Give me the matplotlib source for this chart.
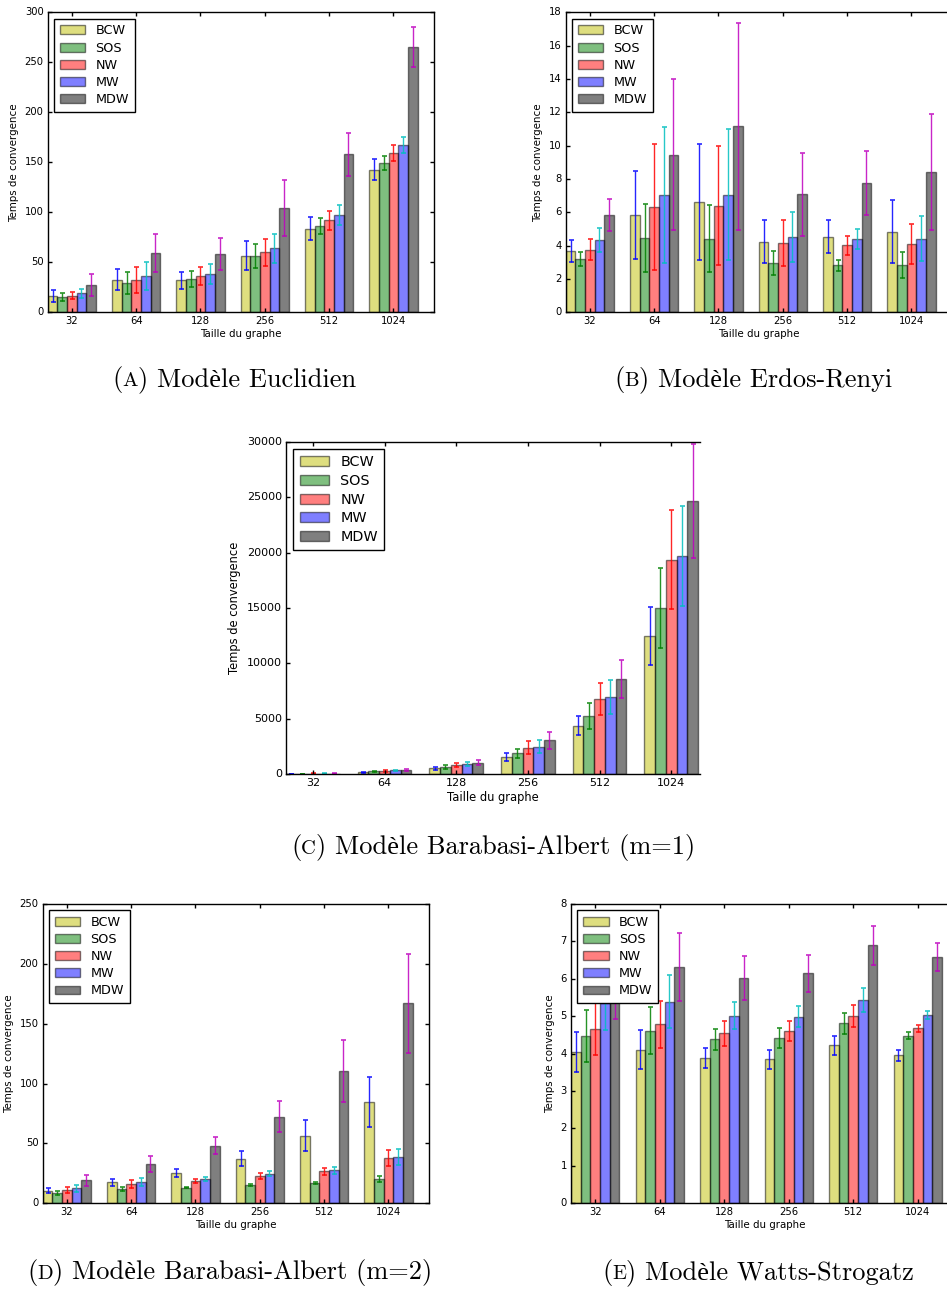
import numpy as np
import matplotlib
matplotlib.use('Agg')
import matplotlib.pyplot as plt

plt.style.use('classic')

groups = ['32', '64', '128', '256', '512', '1024']
methods = ['BCW', 'SOS', 'NW', 'MW', 'MDW']
bar_colors = ['y', 'g', 'r', 'b', 'k']
err_colors = ['b', 'g', 'r', 'c', 'm']

# rows = methods (BCW, SOS, NW, MW, MDW), columns = graph sizes
eucl_mean = [
    [16.0, 32.3, 32.0, 56.7, 83.7, 142.7],
    [15.3, 29.3, 33.3, 56.0, 86.0, 149.0],
    [16.7, 32.7, 36.0, 60.0, 92.0, 159.0],
    [19.0, 36.0, 38.3, 64.0, 97.3, 167.0],
    [27.3, 59.0, 58.7, 104.3, 158.0, 265.0],
]
eucl_err = [
    [6.0, 10.5, 8.7, 14.3, 11.2, 10.3],
    [3.7, 10.7, 8.3, 12.0, 8.0, 7.0],
    [3.8, 13.0, 9.2, 13.5, 9.7, 7.8],
    [4.3, 13.8, 10.3, 14.5, 10.3, 8.2],
    [10.8, 19.2, 16.0, 28.0, 21.3, 20.2],
]
er_mean = [
    [3.68, 5.82, 6.62, 4.24, 4.52, 4.84],
    [3.20, 4.46, 4.42, 2.94, 2.82, 2.82],
    [3.76, 6.32, 6.40, 4.16, 4.02, 4.08],
    [4.32, 7.04, 7.06, 4.52, 4.38, 4.42],
    [5.82, 9.44, 11.16, 7.08, 7.76, 8.40],
]
er_err = [
    [0.64, 2.64, 3.48, 1.30, 0.99, 1.89],
    [0.42, 2.03, 2.00, 0.71, 0.33, 0.77],
    [0.64, 3.78, 3.58, 1.40, 0.58, 1.19],
    [0.71, 4.07, 3.93, 1.48, 0.61, 1.34],
    [0.95, 4.53, 6.22, 2.50, 1.90, 3.49],
]
ba1_mean = [
    [45, 190, 540, 1563, 4389, 12505],
    [50, 260, 660, 1894, 5260, 14970],
    [60, 330, 840, 2405, 6794, 19359],
    [55, 360, 900, 2495, 6974, 19719],
    [70, 420, 1050, 3066, 8567, 24619],
]
ba1_err = [
    [20, 50, 120, 390, 857, 2615],
    [20, 50, 150, 400, 1190, 3607],
    [30, 80, 165, 600, 1458, 4480],
    [20, 70, 190, 590, 1518, 4525],
    [30, 90, 225, 750, 1700, 5140],
]
ba2_mean = [
    [10.6, 17.5, 25.3, 37.3, 56.5, 84.6],
    [8.4, 11.7, 13.1, 15.3, 17.0, 20.3],
    [11.1, 16.1, 18.7, 22.8, 26.7, 37.9],
    [12.5, 17.8, 20.3, 24.8, 27.6, 38.4],
    [19.2, 32.9, 48.2, 72.4, 110.5, 167.0],
]
ba2_err = [
    [1.8, 3.1, 3.2, 6.3, 12.9, 20.5],
    [1.5, 1.8, 0.6, 1.0, 0.7, 2.2],
    [2.4, 3.1, 1.5, 2.4, 3.2, 6.7],
    [2.8, 3.2, 1.4, 2.0, 2.9, 6.7],
    [4.5, 6.4, 7.1, 13.2, 25.9, 41.6],
]
ws_mean = [
    [4.04, 4.10, 3.89, 3.85, 4.22, 3.96],
    [4.48, 4.61, 4.38, 4.41, 4.81, 4.48],
    [4.66, 4.78, 4.54, 4.60, 5.01, 4.68],
    [5.35, 5.39, 5.01, 4.99, 5.43, 5.03],
    [5.55, 6.31, 6.03, 6.15, 6.90, 6.59],
]
ws_err = [
    [0.54, 0.52, 0.27, 0.25, 0.25, 0.15],
    [0.69, 0.63, 0.28, 0.27, 0.28, 0.09],
    [0.70, 0.63, 0.34, 0.26, 0.30, 0.09],
    [0.73, 0.71, 0.36, 0.28, 0.32, 0.11],
    [0.62, 0.91, 0.59, 0.50, 0.52, 0.38],
]

W, H = 947, 1290
fig = plt.figure(figsize=(W / 100, H / 100), dpi=100, facecolor='white')


def rect(l, t, r, b):
    return [l / W, 1 - b / H, (r - l) / W, (b - t) / H]


def panel(box, mean, err, ylim, ystep, tick_fs, lab_fs, leg_fs, xmax=6.0, hide_right=False):
    ax = fig.add_axes(rect(*box))
    ind = np.arange(len(groups))
    width = 0.15
    for k, name in enumerate(methods):
        ax.bar(ind + k * width, mean[k], width, align='edge', color=bar_colors[k],
               alpha=0.5, edgecolor='k', linewidth=1.0, label=name,
               yerr=err[k],
               error_kw=dict(ecolor=err_colors[k], capsize=1.8, capthick=1.2,
                             elinewidth=1.0, alpha=0.85))
    ax.set_xlim(0, xmax)
    ax.set_ylim(*ylim)
    ax.set_yticks(np.arange(ylim[0], ylim[1] + ystep * 0.5, ystep))
    ax.set_xticks(ind + 2.5 * width)
    ax.set_xticklabels(groups)
    ax.tick_params(direction='in', length=3, width=1, labelsize=tick_fs,
                   top=True, right=not hide_right, pad=3)
    if hide_right:
        ax.spines['right'].set_visible(False)
    ax.set_xlabel('Taille du graphe', fontsize=lab_fs, labelpad=2)
    ax.set_ylabel('Temps de convergence', fontsize=lab_fs, labelpad=4)
    leg = ax.legend(loc='upper left', fontsize=leg_fs, labelspacing=0.32,
                    handlelength=2.0, handleheight=0.7, borderpad=0.45,
                    handletextpad=0.8, borderaxespad=0.5, fancybox=False)
    leg.get_frame().set_edgecolor('k')
    leg.get_frame().set_linewidth(1.0)
    return ax


panel((47.7, 12.3, 433.7, 312.3), eucl_mean, eucl_err, (0, 300), 50, 7.2, 7.4, 9.2)
panel((565.7, 12.3, 951.7, 312.3), er_mean, er_err, (0, 18), 2, 7.2, 7.4, 9.2)
panel((286.0, 441.7, 700.0, 774.3), ba1_mean, ba1_err, (0, 30000), 5000, 8.0, 8.3, 10.4,
      xmax=(700.0 - 286.0) / 71.67, hide_right=True)
panel((42.7, 904.0, 428.7, 1203.3), ba2_mean, ba2_err, (0, 250), 50, 7.2, 7.4, 9.2)
panel((571.0, 904.0, 958.0, 1203.3), ws_mean, ws_err, (0, 8), 1, 7.2, 7.4, 9.2)

# captions (letters in small caps)
cap_font = ['cmr10', 'Liberation Serif']
captions = [
    (234, 386, 'A', 'Modèle Euclidien'),
    (753, 386, 'B', 'Modèle Erdos-Renyi'),
    (493, 854, 'C', 'Modèle Barabasi-Albert (m=1)'),
    (230, 1279, 'D', 'Modèle Barabasi-Albert (m=2)'),
    (758, 1279, 'E', 'Modèle Watts-Strogatz'),
]
cap_size = 19
renderer = fig.canvas.get_renderer()
for cx, cy, letter, body in captions:
    pieces = [('(', cap_size), (letter, cap_size * 0.78), (') ' + body, cap_size)]
    texts = []
    for s, fs in pieces:
        t = fig.text(0, 1 - cy / H, s, fontsize=fs, family=cap_font,
                     ha='left', va='baseline')
        texts.append(t)
    widths = [t.get_window_extent(renderer).width for t in texts]
    x = cx - sum(widths) / 2
    for t, w in zip(texts, widths):
        t.set_x(x / W)
        x += w

fig.savefig('out.png', dpi=100, facecolor='white')
